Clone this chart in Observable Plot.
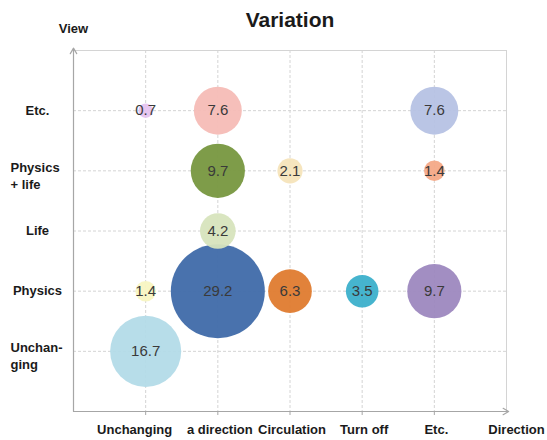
<!DOCTYPE html>
<html>
<head>
<meta charset="utf-8">
<script src="https://cdn.jsdelivr.net/npm/d3@7"></script>
<script src="https://cdn.jsdelivr.net/npm/@observablehq/plot@0.6"></script>
<style>
  html, body { margin: 0; padding: 0; background: #fff; }
  #chart svg { font-family: "Liberation Sans", Arial, sans-serif; }
</style>
</head>
<body>
<div id="chart"></div>
<script>
// ---- Data ----
const title = "Variation";
const xAxisTitle = "Direction";
const yAxisTitle = "View";
const directions = ["Unchanging", "a direction", "Circulation", "Turn off", "Etc."];
const views = ["Unchan-\nging", "Physics", "Life", "Physics\n+ life", "Etc."];

const bubbleView      = ["Etc.", "Etc.", "Etc.", "Physics\n+ life", "Physics\n+ life", "Physics\n+ life", "Life", "Physics", "Physics", "Physics", "Physics", "Physics", "Unchan-\nging"];
const bubbleDirection = ["Unchanging", "a direction", "Etc.", "a direction", "Circulation", "Etc.", "a direction", "Unchanging", "a direction", "Circulation", "Turn off", "Etc.", "Unchanging"];
const bubbleValue     = [0.7, 7.6, 7.6, 9.7, 2.1, 1.4, 4.2, 1.4, 29.2, 6.3, 3.5, 9.7, 16.7];

// ---- Styles ----
const palette = ["#e6c4f0", "#f5bcb6", "#b6c2e4", "#77973f", "#f6e4ba", "#f4a987", "#d7e4bd", "#f8f6c2", "#3f6aa9", "#df7b2f", "#3cb0cb", "#9d88bf", "#b3dbe8"];

const bubbles = bubbleValue.map((v, i) => ({
  id: "b" + i,
  x: directions.indexOf(bubbleDirection[i]) + 1,
  y: views.indexOf(bubbleView[i]) + 1,
  value: v
}));
const xTicks = directions.map((d, i) => ({label: d, x: i + 1}));
const yTicks = views.map((d, i) => ({label: d, y: i + 1}));

const axisColor = "#a6a6a6";
const gridColor = "#d4d4d4";
const labelColor = "#1a1a1a";
const xLabelStyle = {y: () => 0, text: "label", dy: 18, fontWeight: "bold", fontSize: 13, fill: labelColor};

const chart = Plot.plot({
  width: 547,
  height: 440,
  marginLeft: 73,
  marginRight: 41,
  marginTop: 50,
  marginBottom: 29,
  x: {type: "linear", domain: [0, 6], axis: null},
  y: {type: "linear", domain: [0, 6], axis: null},
  r: {type: "sqrt", domain: [0, 29.2], range: [0, 47]},
  color: {type: "ordinal", domain: bubbles.map(d => d.id), range: palette},
  marks: [
    Plot.gridX([1, 2, 3, 4, 5], {stroke: gridColor, strokeOpacity: 1, strokeDasharray: "3,2"}),
    Plot.gridY([1, 2, 3, 4, 5], {stroke: gridColor, strokeOpacity: 1, strokeDasharray: "3,2"}),
    Plot.ruleY([6], {stroke: gridColor}),
    Plot.ruleX([6], {stroke: gridColor}),
    // tick marks below the x axis
    Plot.ruleX([1, 2, 3, 4, 5], {y1: 0, y2: 0, insetBottom: -4, stroke: axisColor}),
    // axes with arrows
    Plot.arrow([0], {x1: () => 0, y1: () => 0, x2: () => 0, y2: () => 6.04, stroke: axisColor, headLength: 8, strokeWidth: 1.2}),
    Plot.arrow([0], {x1: () => 0, y1: () => 0, x2: () => 6.03, y2: () => 0, stroke: axisColor, headLength: 8, strokeWidth: 1.2}),
    Plot.dot(bubbles, {x: "x", y: "y", r: "value", fill: "id", fillOpacity: 0.95}),
    Plot.text(bubbles, {x: "x", y: "y", text: d => String(d.value), fill: "#3a3a3a", fontSize: 15}),
    // x labels (first one sits a little left of its tick, as in the original)
    Plot.text(xTicks.slice(0, 1), {x: "x", dx: -11, ...xLabelStyle}),
    Plot.text(xTicks.slice(1), {x: "x", dx: 2, ...xLabelStyle}),
    // y labels (single line centred, multi-line left aligned)
    Plot.text(yTicks.filter(d => !d.label.includes("\n")), {x: () => 0, y: "y", text: "label", dx: -36, textAnchor: "middle", fontWeight: "bold", fontSize: 13, fill: labelColor}),
    Plot.text(yTicks.filter(d => d.label.includes("\n")), {x: () => 0, y: "y", text: "label", dx: -63, dy: 4, textAnchor: "start", lineHeight: 1.3, fontWeight: "bold", fontSize: 13, fill: labelColor}),
    // axis titles
    Plot.text([xAxisTitle], {x: () => 6, y: () => 0, text: d => d, dx: 10, dy: 18, fontWeight: "bold", fontSize: 13, fill: labelColor}),
    Plot.text([yAxisTitle], {x: () => 0, y: () => 6, text: d => d, dy: -22, fontWeight: "bold", fontSize: 13, fill: labelColor}),
    // title
    Plot.text([title], {frameAnchor: "top", lineAnchor: "middle", text: d => d, dy: -30, fontWeight: "bold", fontSize: 21, fill: labelColor})
  ]
});
document.getElementById("chart").appendChild(chart);
</script>
</body>
</html>
